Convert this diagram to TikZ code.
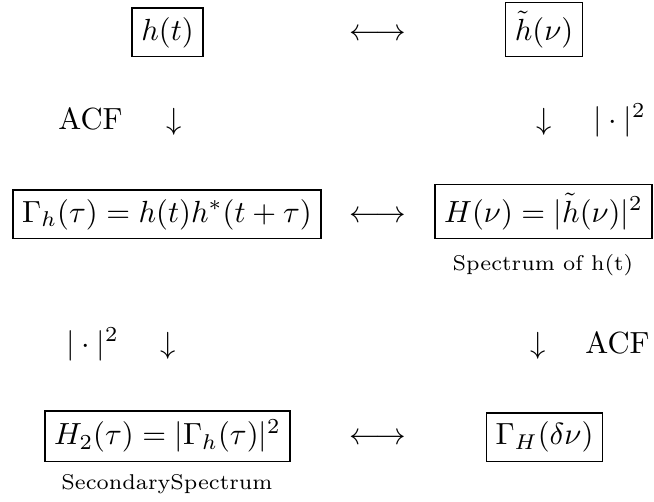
\documentclass[tikz,border=0pt]{standalone}
\usepackage{amsmath}
\usepackage{amssymb}

\begin{document}
\begin{tikzpicture}[
  x=0.327pt,
  y=-0.327pt,
  every node/.style={font=\normalsize, inner sep=0pt, anchor=base},
  box/.style={draw, line width=0.4pt, inner sep=3pt},
  note/.style={font=\scriptsize}
]
  \useasboundingbox (0,0) rectangle (654,502);

  % first row
  \node[box] (ht) at (167.5,40) {$h(t)$};
  \node (lrA) at (378,40) {$\longleftrightarrow$};
  \node[box] (hnu) at (544,40) {$\tilde{h}(\nu)$};

  \node (acfA) at (90.5,129) {ACF};
  \node (downA) at (174,129) {$\downarrow$};
  \node (downB) at (544,129) {$\downarrow$};
  \node (absA) at (619.5,129) {$|\cdot|^2$};

  % second row
  \node[box] (gam) at (167,222) {$\Gamma_h(\tau) = h(t)h^*(t+\tau)$};
  \node (lrB) at (378,222) {$\longleftrightarrow$};
  \node[box] (Hnu) at (543.5,222) {$H(\nu) = |\tilde{h}(\nu)|^2$};
  \node[note] (spec) at (543,270) {Spectrum of h(t)};

  \node (absB) at (92.5,353) {$|\cdot|^2$};
  \node (downC) at (168,353) {$\downarrow$};
  \node (downD) at (538,353) {$\downarrow$};
  \node (acfB) at (617.5,353) {ACF};

  % third row
  \node[box] (Htwo) at (167.5,445) {$H_2(\tau) = |\Gamma_h(\tau)|^2$};
  \node (lrC) at (378,445) {$\longleftrightarrow$};
  \node[box] (gamH) at (544.5,445) {$\Gamma_H(\delta\nu)$};
  \node[note] (secspec) at (167,489) {SecondarySpectrum};
\end{tikzpicture}
\end{document}
